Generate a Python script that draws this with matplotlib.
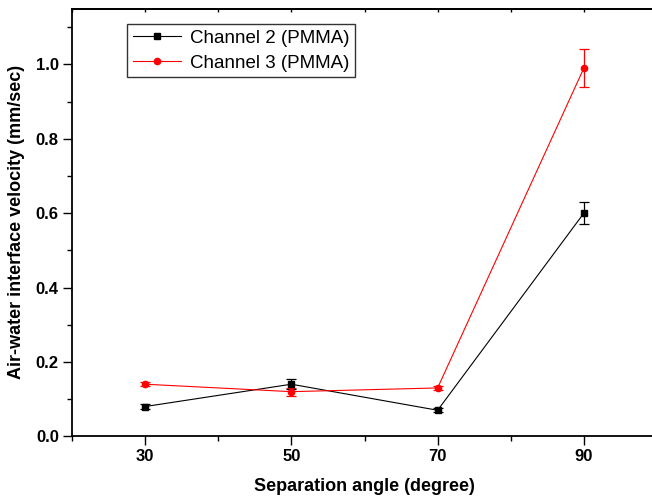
import matplotlib
matplotlib.use("Agg")
import matplotlib.pyplot as plt
from matplotlib.lines import Line2D
from matplotlib.ticker import MultipleLocator

# separation angle (degree)
angles = [30, 50, 70, 90]

# Channel 2 (PMMA)
ch2_velocity = [0.08, 0.14, 0.07, 0.60]
ch2_error = [0.006, 0.014, 0.005, 0.03]

# Channel 3 (PMMA)
ch3_velocity = [0.14, 0.12, 0.13, 0.99]
ch3_error = [0.005, 0.011, 0.005, 0.05]

plt.rcParams["font.family"] = ["Liberation Sans", "DejaVu Sans"]

fig = plt.figure(figsize=(6.52, 4.98), dpi=100)
# right spine sits just outside the picture, like the cropped original
ax = fig.add_axes([0.1104, 0.1239, 0.8973, 0.8590])

styles = [
    ("Channel 2 (PMMA)", ch2_velocity, ch2_error, "black", "s"),
    ("Channel 3 (PMMA)", ch3_velocity, ch3_error, "#ff0000", "o"),
]
handles = []
for label, values, errors, color, marker in styles:
    ax.errorbar(angles, values, yerr=errors, color=color, marker=marker,
                markersize=4.5, linewidth=0.8, elinewidth=0.9, capsize=3.5,
                capthick=0.9)
    handles.append(Line2D([], [], color=color, marker=marker, markersize=4.5,
                          linewidth=0.8, label=label))

ax.set_xlim(20, 100)
ax.set_ylim(0, 1.15)
ax.set_xticks(angles)
ax.xaxis.set_minor_locator(MultipleLocator(10))
ax.yaxis.set_major_locator(MultipleLocator(0.2))
ax.yaxis.set_minor_locator(MultipleLocator(0.1))
ax.yaxis.set_major_formatter(plt.FormatStrFormatter("%.1f"))

ax.tick_params(which="major", direction="out", length=6.5, width=1.0,
               labelsize=12, pad=3)
ax.tick_params(which="minor", direction="out", length=3.5, width=1.0)
for lab in ax.get_xticklabels() + ax.get_yticklabels():
    lab.set_fontweight("bold")

top = ax.secondary_xaxis("top")
top.set_xticks(range(20, 101, 10))
top.tick_params(direction="in", length=2.5, width=1.0, labeltop=False)

for side in ("left", "bottom", "top", "right"):
    ax.spines[side].set_linewidth(1.3)
top.spines["top"].set_linewidth(1.3)

ax.set_xlabel("Separation angle (degree)", fontsize=13, fontweight="bold", labelpad=10)
ax.set_ylabel("Air-water interface velocity (mm/sec)", fontsize=13,
              fontweight="bold", labelpad=8)

leg = ax.legend(handles=handles, loc="upper left", bbox_to_anchor=(0.094, 0.964),
                borderaxespad=0, fontsize=13.5, frameon=True, fancybox=False,
                handlelength=2.6, borderpad=0.3, labelspacing=0.42,
                handletextpad=0.45)
leg.get_frame().set_edgecolor("black")
leg.get_frame().set_linewidth(1.0)

fig.savefig("out.png", dpi=100)
